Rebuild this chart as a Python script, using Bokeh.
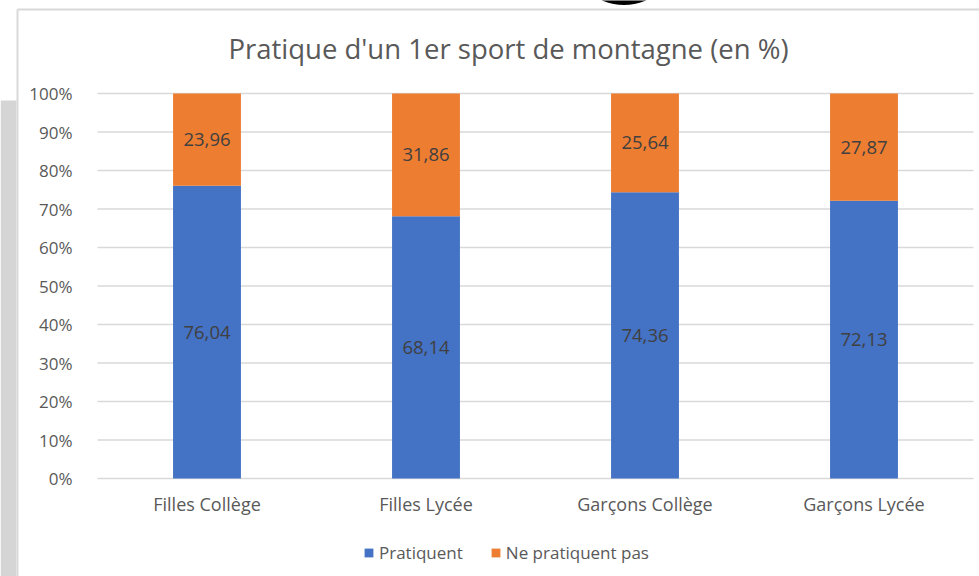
from bokeh.plotting import figure
from bokeh.models import ColumnDataSource, FixedTicker, Legend, LegendItem, Range1d, Label
from bokeh.core.properties import value
from bokeh.embed import file_html
from bokeh.resources import INLINE

categories = ["Filles Collège", "Filles Lycée", "Garçons Collège", "Garçons Lycée"]
pratiquent = [76.04, 68.14, 74.36, 72.13]
ne_pratiquent_pas = [23.96, 31.86, 25.64, 27.87]
y_ticks = [0, 10, 20, 30, 40, 50, 60, 70, 80, 90, 100]
series_names = ["Pratiquent", "Ne pratiquent pas"]
title_text = "Pratique d'un 1er sport de montagne (en %)"

FONT = "Open Sans"
TXT = "#595959"
BLUE = "#4472C4"
ORANGE = "#ED7D31"
GRID = "#D9D9D9"

W, H = 979, 576
# layout constants (pixels): plot area from x=97 to x=973, 100% at y=93, 0% at y=478
PL, PR, PT, PB = 97, 973, 93, 478
XPX = (PR - PL) / len(categories)   # px per category
YPX = (PB - PT) / 100.0             # px per percent


def xd(px):
    return (px - PL) / XPX


def yd(px):
    return 100 - (px - PT) / YPX


cat_x = [i + 0.5 for i in range(len(categories))]
src = ColumnDataSource(dict(
    x=cat_x,
    p=pratiquent,
    n=ne_pratiquent_pas,
    p_mid=[v / 2 for v in pratiquent],
    n_mid=[a + b / 2 for a, b in zip(pratiquent, ne_pratiquent_pas)],
    p_lbl=[f"{v:.2f}".replace(".", ",") for v in pratiquent],
    n_lbl=[f"{v:.2f}".replace(".", ",") for v in ne_pratiquent_pas],
))

p = figure(x_range=Range1d(xd(0), xd(W)), y_range=Range1d(yd(H), yd(0)),
           width=W, height=H, output_backend="svg", toolbar_location=None,
           min_border_left=0, min_border_right=0, min_border_top=0, min_border_bottom=0)
p.outline_line_color = None
p.background_fill_color = "white"
p.border_fill_color = "white"
p.xgrid.visible = False
p.ygrid.visible = False

# screenshot surroundings: grey strip on the left, chart border, dark shape at top
p.quad(left=[xd(0)], right=[xd(16)], top=[yd(100)], bottom=[yd(H)],
       fill_color="#D5D5D5", line_color=None)
p.segment(x0=[xd(17), xd(17)], y0=[yd(9), yd(9)], x1=[xd(17), xd(W)], y1=[yd(H), yd(9)],
          line_color=GRID, line_width=2)
p.scatter(x=[xd(623.5)], y=[yd(-49.5)], size=108, marker="circle",
          fill_color="black", line_color=None)

# horizontal gridlines over the category span
p.segment(x0=[0] * len(y_ticks), y0=y_ticks, x1=[len(categories)] * len(y_ticks), y1=y_ticks,
          line_color=GRID, line_width=1.5)

rs = p.vbar_stack(["p", "n"], x="x", width=0.31, color=[BLUE, ORANGE],
                  line_color=None, source=src)

for ycol, tcol in (("p_mid", "p_lbl"), ("n_mid", "n_lbl")):
    p.text(x="x", y=ycol, text=tcol, source=src, text_align="center",
           text_baseline="middle", text_font=value(FONT), text_font_size="18.5px",
           text_color="#404040")

p.add_layout(Label(x=xd(508), y=yd(47.5), text=title_text, text_align="center",
                   text_baseline="alphabetic", text_font=FONT, text_font_size="27.5px",
                   text_color=TXT))

p.yaxis.fixed_location = 0
p.yaxis.ticker = FixedTicker(ticks=y_ticks)
p.yaxis.major_label_overrides = {v: f"{v}%" for v in y_ticks}
p.yaxis.axis_line_color = None
p.yaxis.major_tick_line_color = None
p.yaxis.minor_tick_line_color = None
p.yaxis.major_label_standoff = 19
p.yaxis.major_label_text_font = FONT
p.yaxis.major_label_text_font_size = "17px"
p.yaxis.major_label_text_color = TXT

p.xaxis.fixed_location = 0
p.xaxis.ticker = FixedTicker(ticks=cat_x)
p.xaxis.major_label_overrides = {x: c for x, c in zip(cat_x, categories)}
p.xaxis.axis_line_color = None
p.xaxis.major_tick_line_color = None
p.xaxis.minor_tick_line_color = None
p.xaxis.major_label_standoff = 7
p.xaxis.major_label_text_font = FONT
p.xaxis.major_label_text_font_size = "18px"
p.xaxis.major_label_text_color = TXT

legend = Legend(items=[LegendItem(label=series_names[0], renderers=[rs[0]]),
                       LegendItem(label=series_names[1], renderers=[rs[1]])],
                orientation="horizontal", location=(363, 12),
                label_text_font=FONT, label_text_font_size="17px", label_text_color=TXT,
                glyph_width=11, glyph_height=11, spacing=27, label_standoff=5,
                border_line_color=None, background_fill_alpha=0, margin=0, padding=2)
p.add_layout(legend, "center")

open("out.html", "w").write(file_html(p, INLINE))
